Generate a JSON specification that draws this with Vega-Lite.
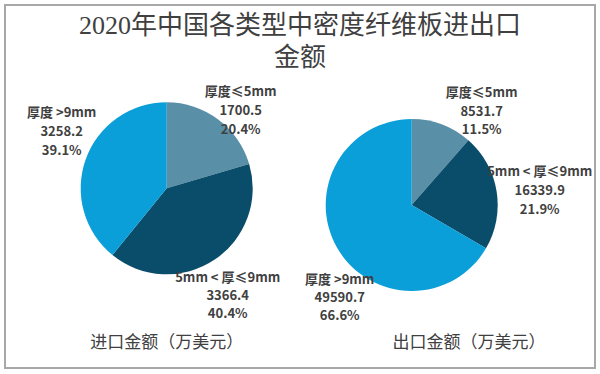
{
  "$schema": "https://vega.github.io/schema/vega-lite/v6.json",
  "width": 600,
  "height": 374,
  "autosize": {"type": "fit", "contains": "padding"},
  "padding": {"left": 5, "top": 5, "right": 5, "bottom": 6},
  "background": "white",
  "config": {
    "view": {"stroke": "#a8a8a8", "strokeWidth": 2},
    "text": {"font": "Noto Sans CJK SC"}
  },
  "title": {
    "text": ["2020年中国各类型中密度纤维板进出口", "金额"],
    "font": "Liberation Serif, Noto Sans CJK SC",
    "fontSize": 26,
    "fontWeight": "normal",
    "color": "#404040",
    "lineHeight": 32,
    "anchor": "middle",
    "offset": -66
  },
  "data": {
    "values": [
      {"trade": "进口金额（万美元）", "category": "厚度≤5mm", "label": "厚度≤5mm", "value": 1700.5, "share": 0.204},
      {"trade": "进口金额（万美元）", "category": "5mm＜厚度≤9mm", "label": "5mm < 厚≤9mm", "value": 3366.4, "share": 0.404},
      {"trade": "进口金额（万美元）", "category": "厚度＞9mm", "label": "厚度 >9mm", "value": 3258.2, "share": 0.391},
      {"trade": "出口金额（万美元）", "category": "厚度≤5mm", "label": "厚度≤5mm", "value": 8531.7, "share": 0.115},
      {"trade": "出口金额（万美元）", "category": "5mm＜厚度≤9mm", "label": "5mm < 厚≤9mm", "value": 16339.9, "share": 0.219},
      {"trade": "出口金额（万美元）", "category": "厚度＞9mm", "label": "厚度 >9mm", "value": 49590.7, "share": 0.666}
    ]
  },
  "transform": [
    {"stack": "value", "groupby": ["trade"], "as": ["v0", "v1"], "offset": "normalize"}
  ],
  "encoding": {
    "x": {"field": "trade", "type": "nominal", "axis": null,
      "scale": {"type": "point", "padding": 0, "domain": ["进口金额（万美元）", "出口金额（万美元）"], "range": [161.7, 406.7]}},
    "y": {"field": "trade", "type": "nominal", "axis": null,
      "scale": {"type": "point", "padding": 0, "domain": ["进口金额（万美元）", "出口金额（万美元）"], "range": [183.3, 200]}}
  },
  "layer": [
    {
      "mark": {"type": "arc", "radius": 86},
      "encoding": {
        "theta": {"field": "v0", "type": "quantitative", "scale": {"domain": [0, 1]}},
        "theta2": {"field": "v1"},
        "color": {"field": "category", "type": "nominal", "legend": null,
          "scale": {"domain": ["厚度≤5mm", "5mm＜厚度≤9mm", "厚度＞9mm"], "range": ["#5a8fa8", "#0a4d6b", "#0b9fd9"]}}
      }
    },
    {
      "transform": [{"filter": "datum.trade === '进口金额（万美元）' && datum.category === '厚度≤5mm'"}],
      "layer": [
        {"mark": {"type": "text", "fontSize": 13, "fontWeight": "bold", "color": "#404040", "dx": 74, "dy": -96}, "encoding": {"text": {"field": "label"}}},
        {"mark": {"type": "text", "fontSize": 13, "fontWeight": "bold", "color": "#404040", "dx": 74, "dy": -77}, "encoding": {"text": {"field": "value", "type": "quantitative", "format": ".1f"}}},
        {"mark": {"type": "text", "fontSize": 13, "fontWeight": "bold", "color": "#404040", "dx": 74, "dy": -58}, "encoding": {"text": {"field": "share", "type": "quantitative", "format": ".1%"}}}
      ]
    },
    {
      "transform": [{"filter": "datum.trade === '进口金额（万美元）' && datum.category === '5mm＜厚度≤9mm'"}],
      "layer": [
        {"mark": {"type": "text", "fontSize": 13, "fontWeight": "bold", "color": "#404040", "dx": 61, "dy": 90}, "encoding": {"text": {"field": "label"}}},
        {"mark": {"type": "text", "fontSize": 13, "fontWeight": "bold", "color": "#404040", "dx": 61, "dy": 108}, "encoding": {"text": {"field": "value", "type": "quantitative", "format": ".1f"}}},
        {"mark": {"type": "text", "fontSize": 13, "fontWeight": "bold", "color": "#404040", "dx": 61, "dy": 126}, "encoding": {"text": {"field": "share", "type": "quantitative", "format": ".1%"}}}
      ]
    },
    {
      "transform": [{"filter": "datum.trade === '进口金额（万美元）' && datum.category === '厚度＞9mm'"}],
      "layer": [
        {"mark": {"type": "text", "fontSize": 13, "fontWeight": "bold", "color": "#404040", "dx": -105, "dy": -75}, "encoding": {"text": {"field": "label"}}},
        {"mark": {"type": "text", "fontSize": 13, "fontWeight": "bold", "color": "#404040", "dx": -105, "dy": -56}, "encoding": {"text": {"field": "value", "type": "quantitative", "format": ".1f"}}},
        {"mark": {"type": "text", "fontSize": 13, "fontWeight": "bold", "color": "#404040", "dx": -105, "dy": -37}, "encoding": {"text": {"field": "share", "type": "quantitative", "format": ".1%"}}}
      ]
    },
    {
      "transform": [{"filter": "datum.trade === '出口金额（万美元）' && datum.category === '厚度≤5mm'"}],
      "layer": [
        {"mark": {"type": "text", "fontSize": 13, "fontWeight": "bold", "color": "#404040", "dx": 70, "dy": -112}, "encoding": {"text": {"field": "label"}}},
        {"mark": {"type": "text", "fontSize": 13, "fontWeight": "bold", "color": "#404040", "dx": 70, "dy": -93}, "encoding": {"text": {"field": "value", "type": "quantitative", "format": ".1f"}}},
        {"mark": {"type": "text", "fontSize": 13, "fontWeight": "bold", "color": "#404040", "dx": 70, "dy": -75}, "encoding": {"text": {"field": "share", "type": "quantitative", "format": ".1%"}}}
      ]
    },
    {
      "transform": [{"filter": "datum.trade === '出口金额（万美元）' && datum.category === '5mm＜厚度≤9mm'"}],
      "layer": [
        {"mark": {"type": "text", "fontSize": 13, "fontWeight": "bold", "color": "#404040", "dx": 128, "dy": -33}, "encoding": {"text": {"field": "label"}}},
        {"mark": {"type": "text", "fontSize": 13, "fontWeight": "bold", "color": "#404040", "dx": 128, "dy": -14}, "encoding": {"text": {"field": "value", "type": "quantitative", "format": ".1f"}}},
        {"mark": {"type": "text", "fontSize": 13, "fontWeight": "bold", "color": "#404040", "dx": 128, "dy": 5}, "encoding": {"text": {"field": "share", "type": "quantitative", "format": ".1%"}}}
      ]
    },
    {
      "transform": [{"filter": "datum.trade === '出口金额（万美元）' && datum.category === '厚度＞9mm'"}],
      "layer": [
        {"mark": {"type": "text", "fontSize": 13, "fontWeight": "bold", "color": "#404040", "dx": -72, "dy": 75}, "encoding": {"text": {"field": "label"}}},
        {"mark": {"type": "text", "fontSize": 13, "fontWeight": "bold", "color": "#404040", "dx": -72, "dy": 93}, "encoding": {"text": {"field": "value", "type": "quantitative", "format": ".1f"}}},
        {"mark": {"type": "text", "fontSize": 13, "fontWeight": "bold", "color": "#404040", "dx": -72, "dy": 111}, "encoding": {"text": {"field": "share", "type": "quantitative", "format": ".1%"}}}
      ]
    },
    {
      "transform": [{"filter": "datum.category === '厚度≤5mm'"}],
      "mark": {"type": "text", "fontSize": 17, "color": "#404040"},
      "encoding": {
        "x": {"field": "trade", "type": "nominal", "axis": null,
          "scale": {"type": "point", "padding": 0, "domain": ["进口金额（万美元）", "出口金额（万美元）"], "range": [161.7, 464]}},
        "y": {"field": "trade", "type": "nominal", "axis": null,
          "scale": {"type": "point", "padding": 0, "domain": ["进口金额（万美元）", "出口金额（万美元）"], "range": [338, 338]}},
        "text": {"field": "trade"}
      }
    }
  ],
  "resolve": {"scale": {"x": "independent", "y": "independent"}}
}
